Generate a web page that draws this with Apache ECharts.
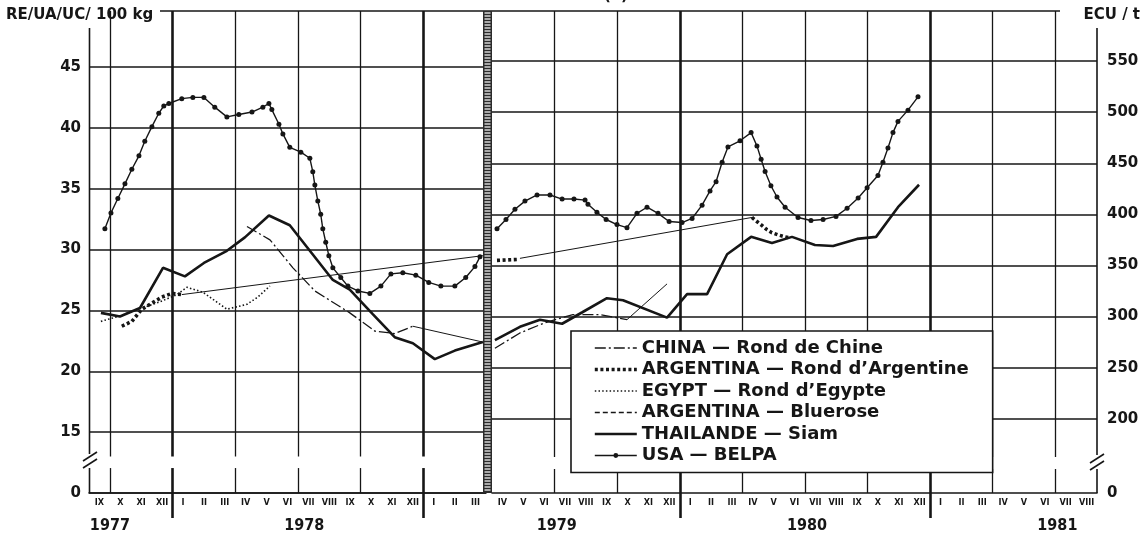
<!DOCTYPE html>
<html>
<head>
<meta charset="utf-8">
<script src="https://cdn.jsdelivr.net/npm/echarts@6/dist/echarts.min.js"></script>
<style>
  html, body { margin: 0; padding: 0; background: #fff; }
  #chart { width: 1145px; height: 537px; }
</style>
</head>
<body>
<div id="chart"></div>
<script>
// month labels, left part (IX 1977 - III 1979) and right part (IV 1979 - VIII 1981)
const monthsA = ['IX','X','XI','XII','I','II','III','IV','V','VI','VII','VIII','IX','X','XI','XII','I','II','III'];
const monthsB = ['IV','V','VI','VII','VIII','IX','X','XI','XII',
                 'I','II','III','IV','V','VI','VII','VIII','IX','X','XI','XII',
                 'I','II','III','IV','V','VI','VII','VIII'];
// x = months counted from 1 Sep 1977
const yearPosA = [1.0, 10.3];
const yearNamesA = ['1977', '1978'];
const yearPosB = [22.1, 34.1, 46.1];
const yearNamesB = ['1979', '1980', '1981'];
const quarterA = [1, 7, 10, 13];
const newYearA = [4, 16];
const quarterB = [22, 25, 31, 34, 37, 43, 46];
const newYearB = [28, 40];

// left part: RE/UA/UC per 100 kg
const usaA = [[0.76,31.7],[1.05,33.0],[1.38,34.2],[1.72,35.4],[2.05,36.6],[2.39,37.7],[2.67,38.9],
  [3.01,40.1],[3.34,41.2],[3.58,41.8],[3.82,42.0],[4.44,42.4],[4.97,42.5],[5.5,42.5],[6.02,41.7],
  [6.6,40.9],[7.17,41.1],[7.8,41.3],[8.32,41.7],[8.61,42.0],[8.75,41.5],[9.09,40.3],[9.28,39.5],
  [9.61,38.4],[10.14,38.0],[10.57,37.5],[10.71,36.4],[10.81,35.3],[10.95,34.0],[11.09,32.9],
  [11.19,31.7],[11.33,30.6],[11.48,29.5],[11.67,28.5],[12.05,27.7],[12.39,27.0],[12.87,26.6],
  [13.44,26.4],[13.97,27.0],[14.45,28.0],[15.02,28.1],[15.64,27.9],[16.26,27.3],[16.84,27.0],
  [17.51,27.0],[18.03,27.7],[18.47,28.6],[18.71,29.4]];
const thaiA = [[0.57,24.8],[1.48,24.5],[2.44,25.2],[3.54,28.5],[4.59,27.8],[5.5,28.9],[6.6,29.9],
  [7.46,31.0],[8.61,32.8],[9.61,32.0],[11.67,27.5],[12.48,26.7],[13.58,24.7],[14.63,22.8],
  [15.5,22.3],[16.55,21.0],[17.51,21.7],[18.85,22.4]];
const chinaA = [[7.56,31.9],[8.66,30.8],[9.76,28.5],[10.81,26.6],[12.48,24.8],[13.68,23.3],
  [14.63,23.1],[15.5,23.7]];
const chinaGapA = [[15.5,23.7],[18.85,22.4]];
const egyptA = [[0.57,24.1],[1.38,24.5],[2.53,25.2],[3.39,25.7],[4.21,26.3],[4.68,26.9],[5.45,26.5],
  [6.6,25.1],[7.56,25.5],[8.08,26.1],[8.66,27.0]];
const argRondA = [[1.57,23.7],[2.05,24.1],[2.53,25.1],[3.01,25.6],[3.49,26.1],[3.97,26.4],[4.44,26.3]];
const argRondGapA = [[4.44,26.3],[18.85,29.5]];

// right part: ECU per t
const usaB = [[19.24,386],[19.67,395],[20.1,405],[20.58,413],[21.16,419],[21.78,419],[22.36,415],
  [22.93,415],[23.46,414],[23.6,410],[24.03,402],[24.47,395],[24.99,390],[25.47,387],[25.95,401],
  [26.43,407],[26.96,401],[27.49,393],[28.11,392],[28.59,396],[29.07,409],[29.45,423],[29.74,432],
  [30.03,451],[30.31,466],[30.89,472],[31.42,480],[31.7,467],[31.9,454],[32.09,442],[32.37,428],
  [32.66,417],[33.05,407],[33.67,397],[34.29,394],[34.87,395],[35.49,398],[36.02,406],[36.55,416],
  [36.98,426],[37.5,438],[37.74,451],[37.98,465],[38.22,480],[38.46,491],[38.94,502],[39.42,515]];
const thaiB = [[19.14,277],[20.34,290],[21.3,297],[22.36,293],[23.31,304],[24.51,318],[25.28,316],
  [27.39,299],[28.35,322],[29.31,322],[30.27,361],[31.42,378],[32.42,372],[33.38,378],[34.48,370],
  [35.35,369],[36.5,376],[37.41,378],[38.46,407],[39.47,429]];
const chinaB = [[19.14,269],[20.34,284],[21.54,294],[22.88,302],[24.18,302],[25.47,297]];
const chinaGapB = [[25.47,297],[27.39,332]];
const argRondB1 = [[19.24,355],[20.29,356]];
const argRondGapB = [[20.34,357],[31.46,397]];
const argRondB2 = [[31.46,397],[31.7,393],[31.95,389],[32.18,385],[32.42,382],[32.71,380],
  [33.05,378],[33.29,377]];
const blueroseA = [];

const INK = '#161616';
const NONE = 'rgba(0,0,0,0)';
const NAMES = ['CHINA — Rond de Chine', 'ARGENTINA — Rond d’Argentine', 'EGYPT — Rond d’Egypte',
  'ARGENTINA — Bluerose', 'THAILANDE — Siam', 'USA — BELPA'];

const sChina = {width: 1.3, type: [11, 3, 2, 3]};
const sArg = {width: 3.6, type: [3, 2.6]};
const sEgypt = {width: 1.6, type: [1.5, 2.2]};
const sBlue = {width: 1.4, type: [5, 3]};
const sThai = {width: 2.6, type: 'solid'};
const sUsa = {width: 1.4, type: 'solid'};
const sThin = {width: 1, type: 'solid'};
const legendStyles = [sChina, sArg, sEgypt, sBlue, sThai, sUsa];

function line(name, data, right, style, more) {
  return Object.assign({
    name: name, type: 'line', data: data,
    xAxisIndex: right ? 2 : 1, yAxisIndex: right ? 1 : 0,
    symbol: 'none', silent: true, animation: false,
    lineStyle: Object.assign({color: INK}, style),
    itemStyle: {color: INK}
  }, more || {});
}

// vertical grid lines and the longer quarter ticks, as mark lines
function gridLines(quarters, years, bottom, stop, tickTop, top) {
  const out = [];
  quarters.forEach(v => {
    out.push([{coord: [v, stop]}, {coord: [v, top]}]);
    out.push([{coord: [v, bottom]}, {coord: [v, tickTop]}]);
  });
  years.forEach(v => {
    out.push([{coord: [v, stop], lineStyle: {width: 2.6}}, {coord: [v, top]}]);
    out.push([{coord: [v, bottom], lineStyle: {width: 2.6}}, {coord: [v, tickTop]}]);
  });
  return {
    silent: true, symbol: ['none', 'none'], label: {show: false}, animation: false,
    lineStyle: {color: INK, width: 1.3, type: 'solid'},
    emphasis: {disabled: true},
    data: out
  };
}

const condensed = "'DejaVu Sans Condensed', 'DejaVu Sans'";
const monthLabel = {fontFamily: condensed, fontWeight: 'bold', fontSize: 9, color: INK, margin: 5, interval: 0};
const numLabel = {fontFamily: 'DejaVu Sans', fontWeight: 'bold', fontSize: 15, color: INK};
const yearLabel = {fontFamily: condensed, fontWeight: 'bold', fontSize: 16, color: INK, margin: 25};

// frame pieces: top border, axis lines with breaks, hatched separator
const frame = [
  {type: 'line', shape: {x1: 160, y1: 11, x2: 1060, y2: 11}, style: {stroke: INK, lineWidth: 1.6}},
  {type: 'line', shape: {x1: 89.5, y1: 28, x2: 89.5, y2: 454}, style: {stroke: INK, lineWidth: 1.6}},
  {type: 'line', shape: {x1: 89.5, y1: 468, x2: 89.5, y2: 493}, style: {stroke: INK, lineWidth: 1.6}},
  {type: 'line', shape: {x1: 83, y1: 461, x2: 97, y2: 452}, style: {stroke: INK, lineWidth: 1.6}},
  {type: 'line', shape: {x1: 83, y1: 468, x2: 97, y2: 459}, style: {stroke: INK, lineWidth: 1.6}},
  {type: 'line', shape: {x1: 1097, y1: 28, x2: 1097, y2: 455}, style: {stroke: INK, lineWidth: 1.6}},
  {type: 'line', shape: {x1: 1097, y1: 469, x2: 1097, y2: 493}, style: {stroke: INK, lineWidth: 1.6}},
  {type: 'line', shape: {x1: 1090, y1: 463, x2: 1104, y2: 454}, style: {stroke: INK, lineWidth: 1.6}},
  {type: 'line', shape: {x1: 1090, y1: 470, x2: 1104, y2: 461}, style: {stroke: INK, lineWidth: 1.6}},
  {type: 'rect', z: 50, shape: {x: 483, y: 11, width: 9, height: 482}, style: {fill: '#2b2b2b'}}
];
for (let y = 13; y < 492; y += 3) {
  frame.push({type: 'line', z: 51, shape: {x1: 484.5, y1: y, x2: 490.5, y2: y},
    style: {stroke: '#fff', lineWidth: 1.2}});
}

// legend entries: only the BELPA entry keeps its dot
const legendItems = NAMES.map((n, i) => ({
  name: n,
  lineStyle: Object.assign({color: INK}, legendStyles[i]),
  itemStyle: i === 5 ? {color: INK, borderWidth: 0} : {color: NONE, borderColor: NONE, borderWidth: 0}
}));

const chart = echarts.init(document.getElementById('chart'));
chart.setOption({
  animation: false,
  backgroundColor: '#fff',
  title: [
    {text: 'RE/UA/UC/ 100 kg', left: 6, top: 8, padding: 0,
     textStyle: {fontFamily: 'DejaVu Sans', fontWeight: 'bold', fontSize: 15, color: INK}},
    {text: 'ECU / t', right: 5, top: 8, padding: 0,
     textStyle: {fontFamily: 'DejaVu Sans', fontWeight: 'bold', fontSize: 15, color: INK}},
    {text: '(a)', left: 604, top: -11, padding: 0,
     textStyle: {fontFamily: 'DejaVu Sans', fontWeight: 'bold', fontSize: 15, color: INK}}
  ],
  legend: {
    data: legendItems, orient: 'vertical', left: 571, top: 331,
    padding: [8, 24, 8, 22], itemWidth: 42, itemHeight: 6, itemGap: 3.5,
    backgroundColor: '#fff', borderColor: INK, borderWidth: 1.6, borderRadius: 0,
    selectedMode: false, z: 20,
    textStyle: {fontFamily: 'DejaVu Sans', fontWeight: 'bold', fontSize: 18, lineHeight: 18, color: INK}
  },
  grid: [
    {left: 89, right: 659, top: 11, bottom: 44},
    {left: 492, right: 48, top: 11, bottom: 16},
    {left: 492, right: 48, top: 11, bottom: 44}
  ],
  xAxis: [
    {type: 'category', gridIndex: 0, data: monthsA, position: 'bottom', boundaryGap: true,
     axisLine: {lineStyle: {color: INK, width: 1.6}},
     axisTick: {inside: true, length: 13, interval: 0, lineStyle: {color: INK, width: 1.2}},
     axisLabel: monthLabel, splitLine: {show: false}},
    {type: 'value', gridIndex: 0, min: 0, max: 19, position: 'bottom',
     axisLine: {show: false}, splitLine: {show: false},
     axisTick: {show: true, customValues: newYearA, length: 25, lineStyle: {color: INK, width: 2.6}},
     axisLabel: Object.assign({customValues: yearPosA,
       formatter: v => yearNamesA[yearPosA.indexOf(v)] || ''}, yearLabel)},
    {type: 'value', gridIndex: 1, min: 19, max: 48, show: false},
    {type: 'category', gridIndex: 2, data: monthsB, position: 'bottom', boundaryGap: true,
     axisLine: {lineStyle: {color: INK, width: 1.6}},
     axisTick: {inside: true, length: 13, interval: 0, lineStyle: {color: INK, width: 1.2}},
     axisLabel: monthLabel, splitLine: {show: false}},
    {type: 'value', gridIndex: 2, min: 19, max: 48, position: 'bottom',
     axisLine: {show: false}, splitLine: {show: false},
     axisTick: {show: true, customValues: newYearB, length: 25, lineStyle: {color: INK, width: 2.6}},
     axisLabel: Object.assign({customValues: yearPosB,
       formatter: v => yearNamesB[yearPosB.indexOf(v)] || ''}, yearLabel)}
  ],
  yAxis: [
    {type: 'value', gridIndex: 0, position: 'left', min: 10, max: 49.6, interval: 5,
     axisLine: {show: false}, axisTick: {show: false},
     axisLabel: Object.assign({margin: 8,
       formatter: v => v === 10 ? '0' : (v >= 15 && v <= 45 ? String(v) : '')}, numLabel),
     splitLine: {show: true, showMaxLine: false, lineStyle: {width: 1.5,
       color: [INK, INK, INK, INK, INK, INK, INK, INK, NONE]}}},
    {type: 'value', gridIndex: 1, position: 'right', min: 100, max: 599, interval: 50,
     axisLine: {show: false}, axisTick: {show: false},
     axisLabel: Object.assign({margin: 10,
       formatter: v => (v >= 200 && v <= 550) ? String(v) : ''}, numLabel),
     splitLine: {show: true, showMaxLine: false, lineStyle: {width: 1.5,
       color: [NONE, NONE, INK, INK, INK, INK, INK, INK, INK, INK, NONE]}}},
    {type: 'value', gridIndex: 2, position: 'right', min: 0, max: 1, interval: 1,
     axisLine: {show: false}, axisTick: {show: false}, splitLine: {show: false},
     axisLabel: Object.assign({margin: 10, formatter: v => v === 0 ? '0' : ''}, numLabel)}
  ],
  graphic: frame,
  series: [
    line(NAMES[0], chinaA, false, sChina),
    line(NAMES[1], argRondA, false, sArg),
    line(NAMES[2], egyptA, false, sEgypt),
    line(NAMES[3], blueroseA, false, sBlue),
    line(NAMES[4], thaiA, false, sThai, {markLine: gridLines(quarterA, newYearA, 10, 13, 12.05, 49.6)}),
    line(NAMES[5], usaA, false, sUsa, {symbol: 'circle', symbolSize: 5, showSymbol: true}),
    line(NAMES[0], chinaGapA, false, sThin),
    line(NAMES[1], argRondGapA, false, sThin),
    line(NAMES[0], chinaB, true, sChina),
    line(NAMES[0], chinaGapB, true, sThin),
    line(NAMES[1], argRondB1, true, sArg),
    line(NAMES[1], argRondGapB, true, sThin),
    line(NAMES[1], argRondB2, true, sArg),
    line(NAMES[4], thaiB, true, sThai, {markLine: gridLines(quarterB, newYearB, 127.4, 162.6, 150.9, 599)}),
    line(NAMES[5], usaB, true, sUsa, {symbol: 'circle', symbolSize: 5, showSymbol: true})
  ]
});
</script>
</body>
</html>
